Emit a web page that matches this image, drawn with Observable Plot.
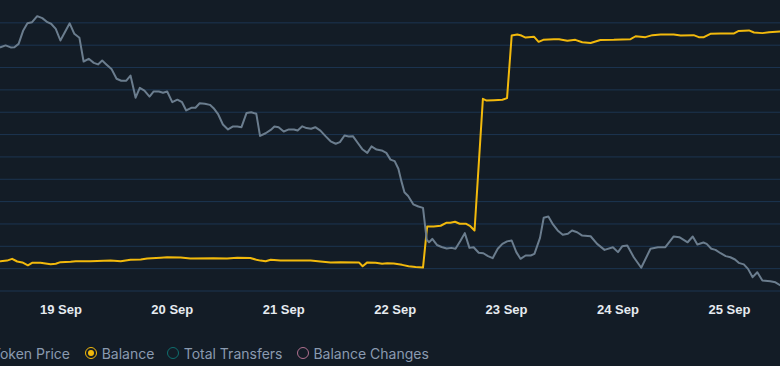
<!DOCTYPE html>
<html>
<head>
<meta charset="utf-8">
<script src="https://cdn.jsdelivr.net/npm/d3@7"></script>
<script src="https://cdn.jsdelivr.net/npm/@observablehq/plot@0.6"></script>
<style>
  html, body { margin:0; padding:0; background:#131c26; width:780px; height:366px; overflow:hidden; }
  #wrap { position:relative; width:780px; height:366px; }
  #chart { position:absolute; left:0; top:0; }
  .item { position:absolute; top:343px; height:20px; display:flex; align-items:center; gap:4.7px;
          font-family: Inter, "Noto Sans", sans-serif; font-size:14px; color:#8a9ab0; white-space:nowrap; }
  .ring { width:12px; height:12px; box-sizing:border-box; border-radius:50%; border:1.5px solid; display:flex; align-items:center; justify-content:center; flex:none; }
  .dot { width:6px; height:6px; border-radius:50%; }
</style>
</head>
<body>
<div id="wrap">
  <div id="chart"></div>
  <div id="legend"></div>
</div>
<script>
// ---- data (hours since 18 Sep 00:00 UTC; values in chart grid units) ----
const startDate = Date.UTC(2023, 8, 18);
const domainHours = [11, 179];

const priceHours = [11.0,12.1,13.2,14.0,14.9,15.9,16.8,17.8,18.9,20.0,21.1,21.9,22.9,23.9,25.9,26.9,28.0,28.9,30.0,31.1,32.0,32.9,33.8,34.9,36.0,37.0,38.1,39.0,40.1,41.0,42.0,43.1,44.0,45.1,46.0,46.9,48.0,49.1,50.1,51.0,52.1,53.0,53.9,55.0,56.1,56.9,57.9,58.9,60.0,61.0,62.0,62.9,64.0,65.0,66.1,66.9,68.1,69.2,70.0,70.9,72.0,73.1,74.2,75.0,76.0,76.9,77.9,78.8,79.9,81.0,82.1,83.2,84.1,85.1,86.0,86.9,88.0,89.0,90.0,90.9,92.0,93.1,94.1,95.0,95.9,96.7,97.3,98.0,98.8,99.9,101.0,102.0,102.8,103.3,104.0,105.0,106.0,107.1,108.1,109.0,110.1,111.0,112.0,112.9,114.0,115.0,116.0,117.0,118.1,119.1,120.1,121.1,122.1,123.0,124.1,125.2,126.0,127.2,128.0,129.0,130.0,131.0,132.1,133.2,134.1,135.2,136.3,138.1,139.5,141.1,142.9,144.0,144.9,146.0,147.4,149.0,151.0,152.6,154.2,156.0,157.2,159.0,160.1,161.1,162.4,163.1,164.1,165.0,166.1,167.2,168.2,169.2,170.0,171.1,172.0,173.0,174.0,175.1,176.8,177.9,179.0];
const priceValues = [10.91,10.99,10.90,10.91,11.06,11.66,11.98,12.03,12.30,12.21,12.03,11.96,11.73,11.21,11.98,11.51,11.33,10.27,10.39,10.21,10.14,10.31,10.14,9.94,9.50,9.41,9.41,9.64,8.65,9.09,8.97,8.70,8.93,8.93,8.87,8.93,8.45,8.56,8.45,8.08,8.20,8.20,8.40,8.38,8.33,8.18,7.90,7.45,7.23,7.36,7.36,7.33,7.97,8.00,7.93,6.94,7.06,7.21,7.36,7.33,7.14,7.23,7.23,7.18,7.37,7.29,7.26,7.33,7.18,6.93,6.70,6.59,6.66,6.96,6.91,6.93,6.61,6.33,6.18,6.47,6.33,6.29,6.18,5.88,5.81,5.47,4.95,4.42,4.25,3.88,3.78,3.72,2.30,2.18,2.33,2.06,1.97,1.90,1.93,1.89,2.26,2.59,1.93,1.96,1.71,1.69,1.56,1.47,1.89,2.11,2.22,2.26,1.74,1.44,1.59,1.59,1.66,2.38,3.28,3.33,2.98,2.71,2.52,2.56,2.71,2.63,2.48,2.45,2.11,1.84,1.96,1.74,2.00,2.04,1.51,1.04,1.89,1.96,1.96,2.44,2.41,2.18,2.44,2.08,2.17,2.11,1.89,1.84,1.69,1.56,1.51,1.41,1.26,1.19,0.99,0.62,0.84,0.47,0.44,0.39,0.25];

const balanceHours = [11.0,12.4,13.5,14.6,15.7,16.9,17.8,19.6,21.8,22.9,23.9,26.1,27.2,30.4,34.7,36.9,39.0,41.2,42.6,45.5,46.9,49.8,51.9,56.9,59.8,62.0,64.8,66.1,67.0,68.1,69.2,71.3,77.8,79.9,82.1,84.2,88.2,89.0,90.0,91.8,93.2,94.3,95.7,97.5,98.9,100.4,102.0,102.9,104.3,105.8,107.0,107.9,108.9,109.9,111.2,112.2,113.1,114.9,115.7,117.3,119.1,120.1,121.1,122.3,123.2,124.1,125.9,126.9,127.9,130.2,131.3,133.1,134.8,136.3,138.1,140.2,143.1,146.7,147.8,149.9,151.4,153.2,156.0,157.5,160.3,161.4,162.5,163.9,166.1,168.9,170.0,172.2,173.3,175.1,176.5,179.0];
const balanceValues = [1.33,1.36,1.44,1.32,1.28,1.15,1.26,1.26,1.20,1.22,1.29,1.31,1.33,1.33,1.36,1.33,1.40,1.41,1.45,1.49,1.51,1.50,1.45,1.47,1.45,1.49,1.48,1.40,1.36,1.33,1.40,1.36,1.36,1.32,1.28,1.29,1.28,1.11,1.28,1.26,1.22,1.24,1.23,1.17,1.11,1.07,1.05,2.89,2.89,2.92,3.05,3.05,3.10,3.01,3.01,2.90,2.71,8.60,8.52,8.54,8.56,8.63,11.43,11.48,11.43,11.34,11.38,11.15,11.24,11.27,11.27,11.20,11.24,11.13,11.10,11.23,11.24,11.27,11.40,11.36,11.45,11.48,11.48,11.43,11.45,11.36,11.36,11.51,11.52,11.52,11.64,11.66,11.57,11.54,11.58,11.61];

const tickDays = [19, 20, 21, 22, 23, 24, 25];
const gridValues = [0,1,2,3,4,5,6,7,8,9,10,11,12];

const legendItems = ["Token Price", "Balance", "Total Transfers", "Balance Changes"];
const legendColors = ["#6b7d8e", "#f2b90c", "#0f6e6e", "#b0708f"];

// ---- build ----
const toDate = h => new Date(startDate + h * 3600e3);
const price = priceHours.map((h, i) => ({t: toDate(h), v: priceValues[i]}));
const balance = balanceHours.map((h, i) => ({t: toDate(h), v: balanceValues[i]}));
const ticks = tickDays.map(d => new Date(Date.UTC(2023, 8, d)));

const chart = Plot.plot({
  width: 780,
  height: 326,
  marginLeft: 0,
  marginRight: 0,
  marginTop: 0,
  marginBottom: 35.5,
  style: {background: "transparent", color: "#e6ebf0", fontFamily: "'Liberation Sans', Arial, sans-serif", fontSize: "13px", overflow: "visible"},
  x: {type: "utc", domain: domainHours.map(toDate), label: null},
  y: {domain: [0, 13], axis: null, label: null},
  marks: [
    Plot.gridY(gridValues, {stroke: "#1c3551", strokeOpacity: 1, strokeWidth: 1}),
    Plot.lineY(balance, {x: "t", y: "v", stroke: "#f2b90c", strokeWidth: 2}),
    Plot.lineY(price, {x: "t", y: "v", stroke: "#6b7d8e", strokeWidth: 2}),
    Plot.axisX(ticks, {tickSize: 0, tickPadding: 13.5, label: null, tickFormat: d3.utcFormat("%-d %b"), fill: "#e6ebf0", fontWeight: "bold"})
  ]
});
document.getElementById("chart").appendChild(chart);

// legend
const legend = document.getElementById("legend");
const lefts = [null, 85, 167, 296.7];
legendItems.forEach((name, i) => {
  const item = document.createElement("div");
  item.className = "item";
  if (i === 0) {
    item.style.right = (780 - 70) + "px";
  } else {
    item.style.left = lefts[i] + "px";
  }
  const ring = document.createElement("span");
  ring.className = "ring";
  ring.style.borderColor = legendColors[i];
  if (name === "Balance") {
    const dot = document.createElement("span");
    dot.className = "dot";
    dot.style.background = legendColors[i];
    ring.appendChild(dot);
  }
  const label = document.createElement("span");
  label.textContent = name;
  item.appendChild(ring);
  item.appendChild(label);
  legend.appendChild(item);
});
</script>
</body>
</html>
